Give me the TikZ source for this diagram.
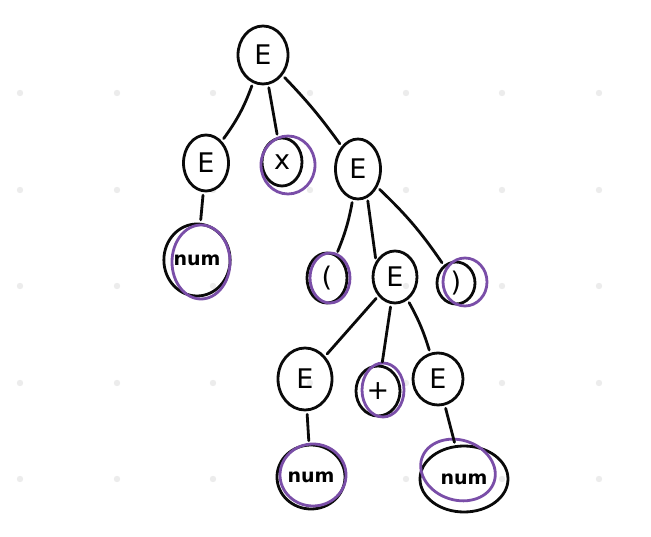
\documentclass[tikz,border=0pt]{standalone}
\usepackage{fontspec}
\setmainfont{DejaVu Sans}
\usetikzlibrary{shapes.geometric}
\definecolor{ink}{RGB}{10,10,10}
\definecolor{mark}{RGB}{122,78,168}
\definecolor{griddot}{RGB}{236,236,236}
\begin{document}
\begin{tikzpicture}[x=1pt,y=-1pt,
  sym/.style={ellipse,draw=ink,line width=2.8pt,inner sep=0pt,font=\fontsize{27}{27}\selectfont},
  lf/.style={sym,font=\fontsize{19}{19}\selectfont\bfseries},
  edge/.style={draw=ink,line width=2.8pt,line cap=round,shorten >=3pt,shorten <=3pt},
  hl/.style={draw=mark,line width=2.8pt}]
\useasboundingbox (0,0) rectangle (651,537);
\fill[white] (0,0) rectangle (651,537);
% background dot grid
\foreach \gx in {20,117,213,310,406,502,599}
  \foreach \gy in {93,190,286,383,479}
    \fill[griddot] (\gx,\gy) circle (3.2);
% nodes
\node[sym,minimum width=50,minimum height=58] (r) at (263,55) {E};
\node[sym,minimum width=45,minimum height=56] (el) at (206,163) {E};
\node[sym,minimum width=40,minimum height=48] (x) at (282,162) {x};
\node[sym,minimum width=45,minimum height=60] (er) at (358,169) {E};
\node[lf,minimum width=66,minimum height=72] (n1) at (197,260) {num};
\node[sym,minimum width=40,minimum height=50] (lp) at (327,278) {(};
\node[sym,minimum width=44,minimum height=52] (ei) at (395,277) {E};
\node[sym,minimum width=38,minimum height=42] (rp) at (456,283) {)};
\node[sym,minimum width=54,minimum height=62] (ea) at (305,379) {E};
\node[sym,minimum width=44,minimum height=50] (pl) at (378,391) {+};
\node[sym,minimum width=50,minimum height=52] (eb) at (438,379) {E};
\node[lf,minimum width=68,minimum height=64] (n2) at (311,477) {num};
\node[lf,minimum width=88,minimum height=66] (n3) at (464,479) {num};
% highlighted leaves
\draw[hl] (288,165) ellipse (27 and 29);
\draw[hl] (201,262) ellipse (29 and 37);
\draw[hl] (330,278) ellipse (20 and 25);
\draw[hl] (465,282) ellipse (22 and 24);
\draw[hl] (383,390) ellipse (21 and 27);
\draw[hl] (313,475) ellipse (33 and 31);
\draw[hl,rotate around={-18:(458,470)}] (458,470) ellipse (38 and 30);
% tree edges
\draw[edge] (r) to[bend left=8] (el);
\draw[edge] (r) -- (x);
\draw[edge] (r) to[bend left=4] (er);
\draw[edge] (el) -- (n1);
\draw[edge] (er) to[bend left=6] (lp);
\draw[edge] (er.-72) -- (ei.140);
\draw[edge] (er) to[bend left=6] (rp);
\draw[edge] (ei) -- (ea);
\draw[edge] (ei) -- (pl);
\draw[edge] (ei) to[bend left=6] (eb);
\draw[edge] (ea) -- (n2);
\draw[edge] (eb) -- (n3);
\end{tikzpicture}
\end{document}
